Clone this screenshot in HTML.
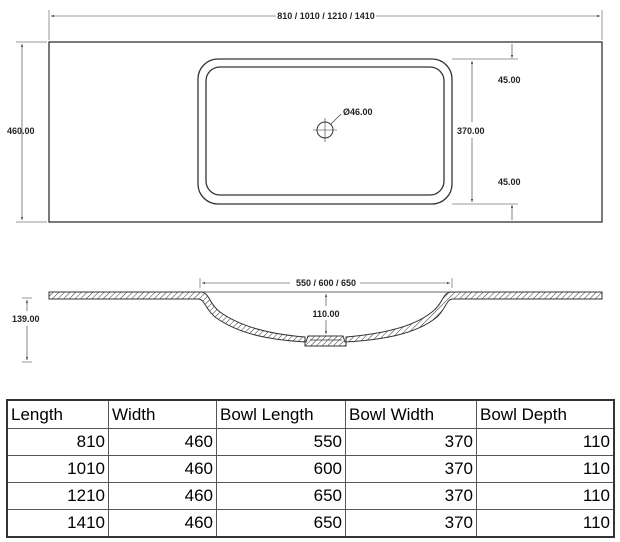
<!DOCTYPE html>
<html><head><style>
body{margin:0;background:#fff;width:620px;height:542px;overflow:hidden;position:relative;font-family:"Liberation Sans",sans-serif}
svg{position:absolute;left:0;top:0}
table{position:absolute;left:6px;top:399px;border-collapse:collapse;font-size:17px;font-family:"Liberation Sans",sans-serif}
td{border:1px solid #555;height:26px;padding:0 3px;line-height:26px}
tr:first-child td{text-align:left;height:27px}
td{text-align:right}
table{border:2px solid #333}
</style></head><body>
<svg width="620" height="390" viewBox="0 0 620 390">
<defs>
<pattern id="h" width="4" height="4" patternUnits="userSpaceOnUse" patternTransform="rotate(45)"><line x1="0" y1="0" x2="0" y2="4" stroke="#333" stroke-width="1"/></pattern>
<marker id="a" viewBox="0 0 6 6" refX="6" refY="3" markerWidth="5" markerHeight="5" orient="auto-start-reverse"><path d="M0,1 L6,3 L0,5z" fill="#333"/></marker>
</defs>
<g stroke="#333" fill="none" stroke-width="1">
<rect x="49" y="42" width="553" height="180" stroke-width="1.3"/>
<rect x="198" y="59" width="254" height="145" rx="20" stroke-width="1.3"/>
<rect x="206" y="67" width="238" height="128" rx="14" stroke-width="1.3"/>
<circle cx="325" cy="130" r="8"/>
<line x1="313" y1="130" x2="337" y2="130" stroke-width=".6"/>
<line x1="325" y1="118" x2="325" y2="142" stroke-width=".6"/>
<line x1="331" y1="124" x2="341" y2="114" stroke-width=".6"/>
<line x1="49" y1="10" x2="49" y2="40" stroke-width=".5"/>
<line x1="602" y1="10" x2="602" y2="40" stroke-width=".5"/>
<line x1="51" y1="16" x2="276" y2="16" stroke-width=".6" marker-start="url(#a)"/>
<line x1="376" y1="16" x2="600" y2="16" stroke-width=".6" marker-end="url(#a)"/>
<line x1="16" y1="42" x2="47" y2="42" stroke-width=".5"/>
<line x1="16" y1="222" x2="47" y2="222" stroke-width=".5"/>
<line x1="22" y1="44" x2="22" y2="220" stroke-width=".6" marker-start="url(#a)" marker-end="url(#a)"/>
<line x1="452" y1="59" x2="518" y2="59" stroke-width=".5"/>
<line x1="452" y1="204" x2="518" y2="204" stroke-width=".5"/>
<line x1="472" y1="61" x2="472" y2="122" stroke-width=".6" marker-start="url(#a)"/>
<line x1="472" y1="138" x2="472" y2="202" stroke-width=".6" marker-end="url(#a)"/>
<line x1="512" y1="44" x2="512" y2="58" stroke-width=".6" marker-end="url(#a)"/>
<line x1="512" y1="220" x2="512" y2="205" stroke-width=".6" marker-end="url(#a)"/>
<path d="M49,292 L200,292 C210,292 208,303 220,312 C245,330 280,335 305,337 L305,346 L346,346 L346,337 C370,335 410,330 432,312 C444,303 442,292 452,292 L602,292 L602,299 L453,299 C446,299 446,309 437,317 C415,335 380,340 345,342 L343,336 L308,336 L306,342 C272,340 240,335 215,317 C205,309 205,299 198,299 L49,299 Z" fill="url(#h)" stroke-width="1"/>
<line x1="200" y1="292" x2="452" y2="292" stroke-width=".8"/>
<line x1="310" y1="340" x2="342" y2="340" stroke-width=".8"/>
<line x1="200" y1="278" x2="200" y2="288" stroke-width=".5"/>
<line x1="452" y1="278" x2="452" y2="288" stroke-width=".5"/>
<line x1="202" y1="283" x2="290" y2="283" stroke-width=".6" marker-start="url(#a)"/>
<line x1="360" y1="283" x2="450" y2="283" stroke-width=".6" marker-end="url(#a)"/>
<line x1="326" y1="294" x2="326" y2="306" stroke-width=".6" marker-start="url(#a)"/>
<line x1="326" y1="320" x2="326" y2="334" stroke-width=".6" marker-end="url(#a)"/>
<line x1="22" y1="298" x2="32" y2="298" stroke-width=".5"/>
<line x1="22" y1="362" x2="32" y2="362" stroke-width=".5"/>
<line x1="27" y1="300" x2="27" y2="311" stroke-width=".6" marker-start="url(#a)"/>
<line x1="27" y1="326" x2="27" y2="360" stroke-width=".6" marker-end="url(#a)"/>
</g>
<g font-size="9" fill="#222" font-family="Liberation Sans,sans-serif" font-weight="bold">
<text x="326" y="19" text-anchor="middle">810 / 1010 / 1210 / 1410</text>
<text x="7" y="134">460.00</text>
<text x="343" y="115">Ø46.00</text>
<text x="457" y="134">370.00</text>
<text x="498" y="83">45.00</text>
<text x="498" y="185">45.00</text>
<text x="326" y="286" text-anchor="middle">550 / 600 / 650</text>
<text x="326" y="317" text-anchor="middle">110.00</text>
<text x="12" y="322">139.00</text>
</g>
</svg>
<table>
<tr><td style="width:94px">Length</td><td style="width:101px">Width</td><td style="width:122px">Bowl Length</td><td style="width:124px">Bowl Width</td><td style="width:130px">Bowl Depth</td></tr>
<tr><td>810</td><td>460</td><td>550</td><td>370</td><td>110</td></tr>
<tr><td>1010</td><td>460</td><td>600</td><td>370</td><td>110</td></tr>
<tr><td>1210</td><td>460</td><td>650</td><td>370</td><td>110</td></tr>
<tr><td>1410</td><td>460</td><td>650</td><td>370</td><td>110</td></tr>
</table>
</body></html>
